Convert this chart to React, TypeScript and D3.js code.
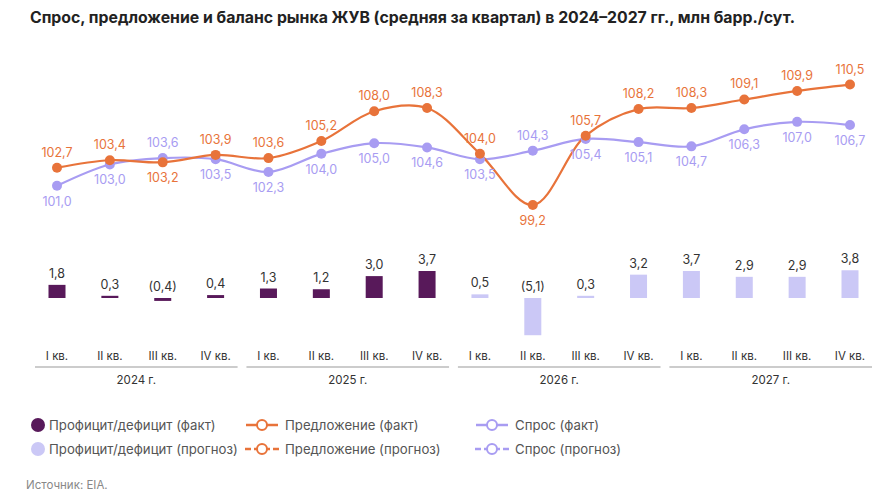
import React from "react";
import * as d3 from "d3";

const quarters = ["I кв.", "II кв.", "III кв.", "IV кв."];
const years = ["2024 г.", "2025 г.", "2026 г.", "2027 г."];
const supply = [102.7, 103.4, 103.2, 103.9, 103.6, 105.2, 108.0, 108.3, 104.0, 99.2, 105.7, 108.2, 108.3, 109.1, 109.9, 110.5];
const demand = [101.0, 103.0, 103.6, 103.5, 102.3, 104.0, 105.0, 104.6, 103.5, 104.3, 105.4, 105.1, 104.7, 106.3, 107.0, 106.7];
const balance = [1.8, 0.3, -0.4, 0.4, 1.3, 1.2, 3.0, 3.7, 0.5, -5.1, 0.3, 3.2, 3.7, 2.9, 2.9, 3.8];
const factCount = 8;
const supplyBelow = [2, 9];
const demandAbove = [2, 9];

const C = { dark: "#58195a", light: "#cbc8f6", orange: "#e8733a", lav: "#a89cf2", text: "#333", grey: "#888" };
const fmt = (v: number) => (v < 0 ? `(${Math.abs(v).toFixed(1).replace(".", ",")})` : v.toFixed(1).replace(".", ","));

export default function App() {
  const idx = d3.range(16);
  const x = d3.scaleLinear().domain([0, 15]).range([57, 850]);
  const y = d3.scaleLinear().domain([99.2, 108.3]).range([205, 108]);
  const yb = d3.scaleLinear().domain([0, 3.7]).range([298, 271]);
  const line = (vals: number[]) =>
    d3.line<number>().x((_, i) => x(i)).y((v) => y(v)).curve(d3.curveCatmullRom.alpha(0.5))(vals) || "";
  const font = "Inter, 'Noto Sans', sans-serif";
  return (
    <svg width={896} height={503} style={{ position: "absolute", left: 0, top: 0 }} fontFamily={font}>
      <rect width={896} height={503} fill="#fff" />
      <text x={30} y={23} fontSize={15.8} fontWeight={700} fill="#222">
        Спрос, предложение и баланс рынка ЖУВ (средняя за квартал) в 2024–2027 гг., млн барр./сут.
      </text>
      {idx.map((i) => {
        const v = balance[i];
        const top = Math.min(yb(v), yb(0));
        const h = Math.abs(yb(v) - yb(0));
        return (
          <g key={"b" + i}>
            <rect x={x(i) - 8.5} y={top} width={17} height={h} fill={i < factCount ? C.dark : C.light} />
            <text x={x(i)} y={(v >= 0 ? yb(v) : yb(0)) - 7} textAnchor="middle" fontSize={12.5} fill={C.text}>{fmt(v)}</text>
          </g>
        );
      })}
      <path d={line(demand)} fill="none" stroke={C.lav} strokeWidth={2.2} />
      <path d={line(supply)} fill="none" stroke={C.orange} strokeWidth={2.2} />
      {idx.map((i) => (
        <g key={"p" + i}>
          <circle cx={x(i)} cy={y(demand[i])} r={5} fill={C.lav} />
          <circle cx={x(i)} cy={y(supply[i])} r={5} fill={C.orange} />
          <text x={x(i)} y={y(supply[i]) + (supplyBelow.includes(i) ? 20 : -11)} textAnchor="middle" fontSize={12.5} fill={C.orange}>{fmt(supply[i])}</text>
          <text x={x(i)} y={y(demand[i]) + (demandAbove.includes(i) ? -11 : 20)} textAnchor="middle" fontSize={12.5} fill={C.lav}>{fmt(demand[i])}</text>
        </g>
      ))}
      {idx.map((i) => (
        <text key={"q" + i} x={x(i)} y={360} textAnchor="middle" fontSize={11.5} fill={C.text}>{quarters[i % 4]}</text>
      ))}
      {years.map((yr, k) => (
        <g key={yr}>
          <line x1={x(4 * k) - 22} x2={x(4 * k + 3) + 22} y1={367} y2={367} stroke="#999" strokeWidth={1} />
          <text x={(x(4 * k) + x(4 * k + 3)) / 2} y={384} textAnchor="middle" fontSize={11.5} fill={C.text}>{yr}</text>
        </g>
      ))}
      {[
        { lx: 38, ly: 425, t: "Профицит/дефицит (факт)", kind: "dot", c: C.dark },
        { lx: 38, ly: 449, t: "Профицит/дефицит (прогноз)", kind: "dot", c: C.light },
        { lx: 262, ly: 425, t: "Предложение (факт)", kind: "line", c: C.orange },
        { lx: 262, ly: 449, t: "Предложение (прогноз)", kind: "dash", c: C.orange },
        { lx: 492, ly: 425, t: "Спрос (факт)", kind: "line", c: C.lav },
        { lx: 492, ly: 449, t: "Спрос (прогноз)", kind: "dash", c: C.lav },
      ].map((l) => (
        <g key={l.t}>
          {l.kind === "dot" ? (
            <circle cx={l.lx} cy={l.ly} r={7} fill={l.c} />
          ) : l.kind === "dash" ? (
            <g>
              <line x1={l.lx - 17} x2={l.lx - 11} y1={l.ly} y2={l.ly} stroke={l.c} strokeWidth={2.5} />
              <line x1={l.lx - 8} x2={l.lx + 8} y1={l.ly} y2={l.ly} stroke={l.c} strokeWidth={2.5} />
              <line x1={l.lx + 11} x2={l.lx + 17} y1={l.ly} y2={l.ly} stroke={l.c} strokeWidth={2.5} />
              <circle cx={l.lx} cy={l.ly} r={5} fill="#fff" stroke={l.c} strokeWidth={2} />
            </g>
          ) : (
            <g>
              <line x1={l.lx - 16} x2={l.lx + 16} y1={l.ly} y2={l.ly} stroke={l.c} strokeWidth={2.5} />
              <circle cx={l.lx} cy={l.ly} r={5} fill="#fff" stroke={l.c} strokeWidth={2} />
            </g>
          )}
          <text x={l.lx + (l.kind === "dot" ? 11 : 23)} y={l.ly + 4.5} fontSize={13.2} fill="#555">{l.t}</text>
        </g>
      ))}
      <text x={26} y={489} fontSize={11.5} fill={C.grey}>Источник: EIA.</text>
    </svg>
  );
}
